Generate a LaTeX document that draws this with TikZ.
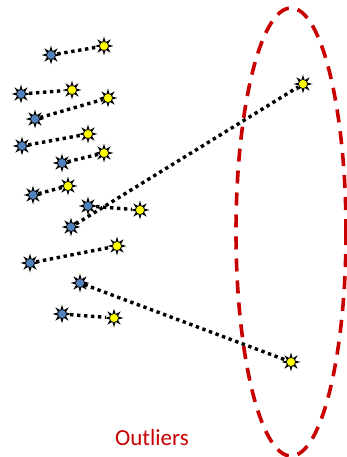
\documentclass[tikz,border=0pt]{standalone}
\usepackage{fontspec}
\setmainfont{Carlito}
\usetikzlibrary{shapes.geometric}
\definecolor{ptblue}{RGB}{79,129,189}
\definecolor{ptyellow}{RGB}{255,255,0}
\definecolor{darkred}{RGB}{200,0,0}
\tikzset{
  spike/.style={star, star points=8, star point ratio=2.3, fill=black, minimum size=19pt, inner sep=0pt},
  bluept/.style={spike, label={[circle, draw=black, fill=ptblue, line width=0.6pt, inner sep=0pt, minimum size=9pt]center:{}}},
  yellowpt/.style={spike, label={[circle, draw=black, fill=ptyellow, line width=0.6pt, inner sep=0pt, minimum size=9pt]center:{}}},
  link/.style={line width=3.4pt, dash pattern=on 3.4pt off 3.6pt},
}
\begin{document}
\begin{tikzpicture}[x=1pt, y=-1pt]
\useasboundingbox (0,0) rectangle (347,457);

% ellipse of the outliers
\draw[darkred, line width=3.6pt, dash pattern=on 13pt off 9pt] (291,232) ellipse (55 and 224);
\node[darkred, font=\fontsize{23}{26}\selectfont] (lbl) at (152,438) {Outliers};

% blue points
\node[bluept] (b1) at (51,55) {};
\node[bluept] (b2) at (21,94) {};
\node[bluept] (b3) at (35,119) {};
\node[bluept] (b4) at (22,146) {};
\node[bluept] (b5) at (62,163) {};
\node[bluept] (b6) at (33,195) {};
\node[bluept] (b7) at (88,206) {};
\node[bluept] (b8) at (71,227) {};
\node[bluept] (b9) at (30,263) {};
\node[bluept] (b10) at (80,283) {};
\node[bluept] (b11) at (62,314) {};

% yellow points
\node[yellowpt] (y1) at (104,46) {};
\node[yellowpt] (y2) at (72,90) {};
\node[yellowpt] (y3) at (108,98) {};
\node[yellowpt] (y4) at (88,134) {};
\node[yellowpt] (y5) at (104,153) {};
\node[yellowpt] (y6) at (68,186) {};
\node[yellowpt] (y7) at (140,210) {};
\node[yellowpt] (y8) at (303,84) {};
\node[yellowpt] (y9) at (117,246) {};
\node[yellowpt] (y10) at (291,362) {};
\node[yellowpt] (y11) at (114,318) {};

% links
\draw[link] (b1) -- (y1);
\draw[link] (b2) -- (y2);
\draw[link] (b3) -- (y3);
\draw[link] (b4) -- (y4);
\draw[link] (b5) -- (y5);
\draw[link] (b6) -- (y6);
\draw[link] (b7) -- (y7);
\draw[link] (b8) -- (y8);
\draw[link] (b9) -- (y9);
\draw[link] (b10) -- (y10);
\draw[link] (b11) -- (y11);
\end{tikzpicture}
\end{document}
